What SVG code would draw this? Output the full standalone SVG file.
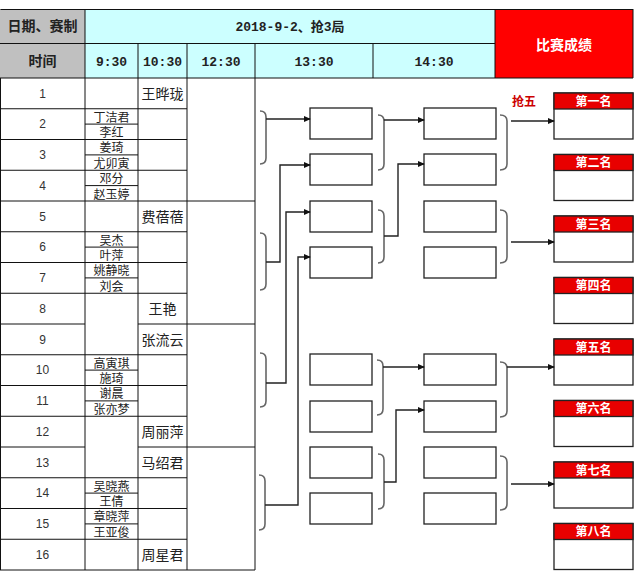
<svg xmlns="http://www.w3.org/2000/svg" width="640" height="583" viewBox="0 0 640 583">
<defs>
<marker id="ah" viewBox="0 0 8 8" refX="7" refY="4" markerWidth="7" markerHeight="7" markerUnits="userSpaceOnUse" orient="auto">
<path d="M0,0.5 L8,4 L0,7.5 Z" fill="#111"/>
</marker>
<style>
.g{stroke:#111;stroke-width:1;fill:none}
.hd{font-family:"Liberation Sans","Noto Sans CJK SC",sans-serif;font-weight:bold;font-size:14px;fill:#222;text-anchor:middle}
.tm{font-family:"Liberation Mono","Noto Sans CJK SC",monospace;font-weight:bold;font-size:13px;fill:#222;text-anchor:middle}
.num{font-family:"Liberation Sans",sans-serif;font-size:12px;fill:#333;text-anchor:middle}
.nm{font-family:"Noto Sans CJK SC",sans-serif;font-size:12px;fill:#222;text-anchor:middle}
.nm2{font-family:"Noto Sans CJK SC",sans-serif;font-size:14px;fill:#222;text-anchor:middle}
.box{fill:#fff;stroke:#222;stroke-width:1.3}
.brace{fill:none;stroke:#666;stroke-width:1.6}
.con{fill:none;stroke:#222;stroke-width:1.4}
.rk{font-family:"Liberation Sans","Noto Sans CJK SC",sans-serif;font-weight:bold;font-size:12px;fill:#fff;text-anchor:middle}
</style>
</defs>
<rect width="640" height="583" fill="#fff"/>
<g id="header">
<rect x="0" y="9" width="85" height="69" fill="#c0c0c0"/>
<rect x="85" y="9" width="410" height="69" fill="#ccffff"/>
<rect x="495" y="9" width="138" height="69" fill="#ff0000"/>
<path class="g" d="M0.5,9.5 H633 M0,43.5 H495 M0,78 H633 M85,9 V78 M495,9 V78 M633,9 V78 M138,43 V78 M187,43 V78 M255,43 V78 M373,43 V78"/>
<text class="hd" x="42.5" y="31">日期、赛制</text>
<text class="hd" x="42.5" y="66">时间</text>
<text class="tm" x="290" y="31">2018-9-2、抢3局</text>
<text class="tm" x="111.5" y="66">9:30</text>
<text class="tm" x="162.5" y="66">10:30</text>
<text class="tm" x="221" y="66">12:30</text>
<text class="tm" x="314" y="66">13:30</text>
<text class="tm" x="434" y="66">14:30</text>
<text class="hd" x="564" y="50" style="fill:#fff">比赛成绩</text>
</g>
<g id="table">
<path class="g" d="M0.5,78 V570 M85,78 V570 M138,78 V570 M187,78 V570 M255,78 V570
M0,108.75 H187 M0,139.5 H187 M0,170.25 H187 M0,201 H255 M0,231.75 H187 M0,262.5 H187 M0,293.25 H187
M0,324 H85 M138,324 H255 M0,354.75 H187 M0,385.5 H187 M0,416.25 H187
M0,447 H85 M138,447 H255 M0,477.75 H187 M0,508.5 H187 M0,539.25 H187 M0,570 H255
M85,124.1 H138 M85,154.9 H138 M85,185.6 H138 M85,247.1 H138 M85,277.9 H138 M85,370.1 H138 M85,400.9 H138 M85,493.1 H138 M85,523.9 H138"/>
<text class="num" x="42.5" y="97.5">1</text>
<text class="num" x="42.5" y="128.3">2</text>
<text class="num" x="42.5" y="159">3</text>
<text class="num" x="42.5" y="189.8">4</text>
<text class="num" x="42.5" y="220.5">5</text>
<text class="num" x="42.5" y="251.3">6</text>
<text class="num" x="42.5" y="282">7</text>
<text class="num" x="42.5" y="312.8">8</text>
<text class="num" x="42.5" y="343.5">9</text>
<text class="num" x="42.5" y="374.3">10</text>
<text class="num" x="42.5" y="405">11</text>
<text class="num" x="42.5" y="435.8">12</text>
<text class="num" x="42.5" y="466.5">13</text>
<text class="num" x="42.5" y="497.3">14</text>
<text class="num" x="42.5" y="528">15</text>
<text class="num" x="42.5" y="558.8">16</text>
<text class="nm2" x="162.5" y="98.5">王晔珑</text>
<text class="nm2" x="162.5" y="221.5">费蓓蓓</text>
<text class="nm2" x="162.5" y="313.8">王艳</text>
<text class="nm2" x="162.5" y="344.5">张流云</text>
<text class="nm2" x="162.5" y="436.8">周丽萍</text>
<text class="nm2" x="162.5" y="467.5">马绍君</text>
<text class="nm2" x="162.5" y="559.8">周星君</text>
<text class="nm" x="111.5" y="121.6">丁洁君</text>
<text class="nm" x="111.5" y="137.2">李红</text>
<text class="nm" x="111.5" y="152.4">姜琦</text>
<text class="nm" x="111.5" y="167.9">尤卯寅</text>
<text class="nm" x="111.5" y="183.1">邓分</text>
<text class="nm" x="111.5" y="198.7">赵玉婷</text>
<text class="nm" x="111.5" y="244.6">吴杰</text>
<text class="nm" x="111.5" y="260.2">叶萍</text>
<text class="nm" x="111.5" y="275.4">姚静晓</text>
<text class="nm" x="111.5" y="290.9">刘会</text>
<text class="nm" x="111.5" y="367.6">高寅琪</text>
<text class="nm" x="111.5" y="383.2">施琦</text>
<text class="nm" x="111.5" y="398.4">谢晨</text>
<text class="nm" x="111.5" y="413.9">张亦梦</text>
<text class="nm" x="111.5" y="490.6">吴晓燕</text>
<text class="nm" x="111.5" y="506.2">王倩</text>
<text class="nm" x="111.5" y="521.4">章晓萍</text>
<text class="nm" x="111.5" y="536.9">王亚俊</text>
</g>
<g id="r1a"><rect class="box" x="310" y="108" width="62" height="31"/></g>
<g id="r1b"><rect class="box" x="310" y="154" width="62" height="31"/></g>
<g id="r1c"><rect class="box" x="310" y="201" width="62" height="31"/></g>
<g id="r1d"><rect class="box" x="310" y="247" width="62" height="31"/></g>
<g id="r1e"><rect class="box" x="310" y="354" width="62" height="31"/></g>
<g id="r1f"><rect class="box" x="310" y="401" width="62" height="31"/></g>
<g id="r1g"><rect class="box" x="310" y="447" width="62" height="31"/></g>
<g id="r1h"><rect class="box" x="310" y="493" width="62" height="31"/></g>
<g id="r2a"><rect class="box" x="424" y="108" width="72" height="31"/></g>
<g id="r2b"><rect class="box" x="424" y="154" width="72" height="31"/></g>
<g id="r2c"><rect class="box" x="424" y="201" width="72" height="31"/></g>
<g id="r2d"><rect class="box" x="424" y="247" width="72" height="31"/></g>
<g id="r2e"><rect class="box" x="424" y="354" width="72" height="31"/></g>
<g id="r2f"><rect class="box" x="424" y="401" width="72" height="31"/></g>
<g id="r2g"><rect class="box" x="424" y="447" width="72" height="31"/></g>
<g id="r2h"><rect class="box" x="424" y="493" width="72" height="31"/></g>
<g id="place1"><rect class="box" x="554" y="93" width="79" height="46"/><rect x="554" y="93" width="79" height="16" fill="#e80000" stroke="#222" stroke-width="1.3"/><text class="rk" x="593.5" y="105.5">第一名</text></g>
<g id="place2"><rect class="box" x="554" y="154.5" width="79" height="46"/><rect x="554" y="154.5" width="79" height="16" fill="#e80000" stroke="#222" stroke-width="1.3"/><text class="rk" x="593.5" y="167">第二名</text></g>
<g id="place3"><rect class="box" x="554" y="216" width="79" height="46"/><rect x="554" y="216" width="79" height="16" fill="#e80000" stroke="#222" stroke-width="1.3"/><text class="rk" x="593.5" y="228.5">第三名</text></g>
<g id="place4"><rect class="box" x="554" y="277.5" width="79" height="46"/><rect x="554" y="277.5" width="79" height="16" fill="#e80000" stroke="#222" stroke-width="1.3"/><text class="rk" x="593.5" y="290">第四名</text></g>
<g id="place5"><rect class="box" x="554" y="339" width="79" height="46"/><rect x="554" y="339" width="79" height="16" fill="#e80000" stroke="#222" stroke-width="1.3"/><text class="rk" x="593.5" y="351.5">第五名</text></g>
<g id="place6"><rect class="box" x="554" y="400.5" width="79" height="46"/><rect x="554" y="400.5" width="79" height="16" fill="#e80000" stroke="#222" stroke-width="1.3"/><text class="rk" x="593.5" y="413">第六名</text></g>
<g id="place7"><rect class="box" x="554" y="462" width="79" height="46"/><rect x="554" y="462" width="79" height="16" fill="#e80000" stroke="#222" stroke-width="1.3"/><text class="rk" x="593.5" y="474.5">第七名</text></g>
<g id="place8"><rect class="box" x="554" y="523.5" width="79" height="46"/><rect x="554" y="523.5" width="79" height="16" fill="#e80000" stroke="#222" stroke-width="1.3"/><text class="rk" x="593.5" y="536">第八名</text></g>
<g id="label"><text x="512" y="106" style="font-family:'Liberation Sans','Noto Sans CJK SC',sans-serif;font-weight:bold;font-size:12px;fill:#cc0000">抢五</text></g>
<g id="connectors">
<path class="brace" d="M260,111 Q266,111 266,117 V158 Q266,164 260,164"/>
<path class="brace" d="M260,233 Q266,233 266,239 V284 Q266,290 260,290"/>
<path class="brace" d="M260,353 Q266,353 266,359 V401 Q266,407 260,407"/>
<path class="brace" d="M259,475 Q265,475 265,481 V524 Q265,530 259,530"/>
<path class="brace" d="M378,115 Q384,115 384,121 V164 Q384,170 378,170"/>
<path class="brace" d="M378,210 Q384,210 384,216 V257 Q384,263 378,263"/>
<path class="brace" d="M377,360 Q383,360 383,366 V409 Q383,415 377,415"/>
<path class="brace" d="M378,454 Q384,454 384,460 V503 Q384,509 378,509"/>
<path class="brace" d="M500,115 Q507,115 507,121 V164 Q507,170 500,170"/>
<path class="brace" d="M500,210 Q507,210 507,216 V257 Q507,263 500,263"/>
<path class="brace" d="M500,362 Q507,362 507,368 V411 Q507,417 500,417"/>
<path class="brace" d="M500,456 Q507,456 507,462 V504 Q507,510 500,510"/>
<path class="con" marker-end="url(#ah)" d="M266,119 H310"/>
<path class="con" marker-end="url(#ah)" d="M266,262 H280 V165 H310"/>
<path class="con" marker-end="url(#ah)" d="M266,383 H286 V212 H310"/>
<path class="con" marker-end="url(#ah)" d="M265,505 H298 V257 H310"/>
<path class="con" marker-end="url(#ah)" d="M384,120 H424"/>
<path class="con" marker-end="url(#ah)" d="M384,236 H398 V164 H424"/>
<path class="con" marker-end="url(#ah)" d="M383,367 H424"/>
<path class="con" marker-end="url(#ah)" d="M384,482 H396 V410 H424"/>
<path class="con" marker-end="url(#ah)" d="M511,121 H554"/>
<path class="con" marker-end="url(#ah)" d="M511,242 H554"/>
<path class="con" marker-end="url(#ah)" d="M507,367 H554"/>
<path class="con" marker-end="url(#ah)" d="M511,484 H554"/>
</g>
</svg>
